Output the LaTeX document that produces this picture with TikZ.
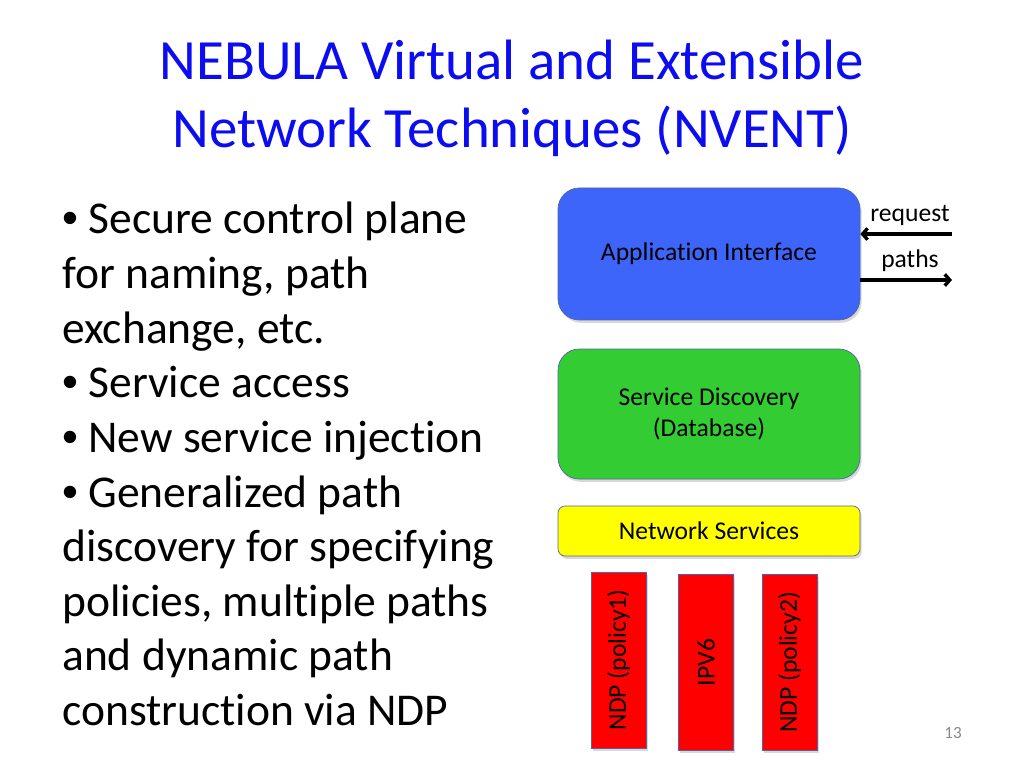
\documentclass[tikz,border=0pt]{standalone}
\usepackage{fontspec}
\setmainfont{Carlito}[Ligatures={NoCommon}]
\newfontfamily\bulletfont{Liberation Sans}
\usetikzlibrary{shadows,arrows.meta}
\newlength\pxu
\setlength\pxu{0.703125pt}
\newcommand\bul{{\bulletfont •}}
\definecolor{titleblue}{RGB}{12,12,240}
\definecolor{appblue}{RGB}{61,101,250}
\definecolor{discgreen}{RGB}{51,204,51}
\definecolor{netyellow}{RGB}{255,255,0}
\definecolor{ndpred}{RGB}{255,0,0}
\definecolor{edgeblue}{RGB}{85,100,160}
\definecolor{pagegray}{RGB}{137,137,137}
\begin{document}
\begin{tikzpicture}[x=0.703125pt, y=-0.703125pt,
  every node/.style={font=\fontsize{18}{21.6}\selectfont, inner sep=0pt},
  layer/.style={draw=edgeblue, line width=0.5pt, minimum width=302*\pxu,
    drop shadow={opacity=0.3, shadow xshift=1.2pt, shadow yshift=-2pt}},
  stack/.style={draw=edgeblue, line width=0.5pt, fill=ndpred, minimum width=55*\pxu, minimum height=176*\pxu,
    drop shadow={opacity=0.3, shadow xshift=1.2pt, shadow yshift=-2pt}},
  flow/.style={line width=2.4pt, -{Straight Barb[length=3.5pt,width=8pt]}}]
  \fill[white] (0,0) rectangle (1024,768);
  \useasboundingbox (0,0) rectangle (1024,768);
  % title
  \node[anchor=base, text=titleblue, font=\fontsize{40}{48}\selectfont] (title1) at (512,80) {NEBULA Virtual and Extensible};
  \node[anchor=base, text=titleblue, font=\fontsize{40}{48}\selectfont] (title2) at (512,148) {Network Techniques (NVENT)};
  % bullet text
  \foreach \txt [count=\i] in {\bul{} Secure control plane, {for naming, path}, {exchange, etc.}, \bul{} Service access,
      \bul{} New service injection, \bul{} Generalized path, discovery for specifying, {policies, multiple paths},
      and dynamic path, construction via NDP}
    \node[anchor=base west, font=\fontsize{32}{38.4}\selectfont] (line\i) at (62,{234+54.6*(\i-1)}) {\txt};
  % layers
  \node[layer, fill=appblue, rounded corners=15pt, minimum height=132*\pxu] (app) at (709,254) {Application Interface};
  \node[layer, fill=discgreen, rounded corners=15pt, minimum height=130*\pxu, align=center] (disc) at (709,414) {Service Discovery\\(Database)};
  \node[layer, fill=netyellow, rounded corners=5pt, minimum height=50*\pxu] (net) at (709,531) {Network Services};
  \foreach \name/\cx/\cy/\lab in {ndpa/618.5/660/{NDP (policy1)}, ipv/706/662.5/IPV6, ndpb/789.5/662.5/{NDP (policy2)}}
    \node[stack] (\name) at (\cx,\cy) {\rotatebox{90}{\lab}};
  % request / paths
  \coordinate (reqend) at (952,234);
  \coordinate (pathend) at (952,280);
  \draw[flow] (reqend) -- (reqend -| app.east);
  \draw[flow] (pathend -| app.east) -- (pathend);
  \node[anchor=base] (req) at (910,222) {request};
  \node[anchor=base] (pth) at (910,268) {paths};
  \node[anchor=base, text=pagegray, font=\fontsize{12}{14}\selectfont] (pgno) at (953,738) {13};
\end{tikzpicture}
\end{document}
